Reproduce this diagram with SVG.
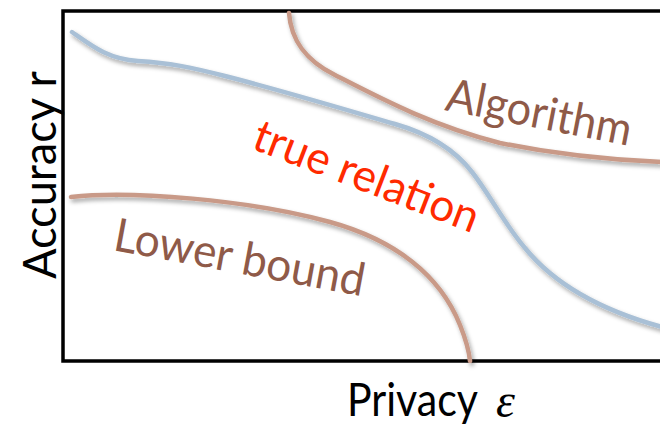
<svg xmlns="http://www.w3.org/2000/svg" width="660" height="427" viewBox="0 0 660 427">
  <defs>
    <filter id="soft-shadow" x="-10%" y="-10%" width="120%" height="130%">
      <feDropShadow dx="2" dy="3" stdDeviation="2" flood-color="#000" flood-opacity="0.35"/>
    </filter>
    <style>
      .axis { fill: none; stroke: #000; stroke-width: 3.5; }
      .curve { fill: none; stroke-width: 4.5; stroke-linecap: round; filter: url(#soft-shadow); }
      .bound { stroke: #c99a88; }
      .truth { stroke: #a9c0d6; }
      .axis-label { font-family: Lato, "Liberation Sans", sans-serif; font-size: 47px; fill: #000; }
      .curve-label { font-family: Lato, "Liberation Sans", sans-serif; font-size: 46px; fill: #8f5a48; }
      .true-label { font-family: Lato, "Liberation Sans", sans-serif; font-size: 45px; fill: #ff2a00; }
    </style>
  </defs>

  <rect width="660" height="427" fill="#fff"/>

  <!-- plot frame: left, top and bottom edges, open to the right -->
  <g id="axes">
    <path class="axis" d="M662,11 H63 V361 H662"/>
  </g>

  <g id="connectors">
    <!-- true privacy/accuracy relation -->
    <path id="true-curve" class="curve truth" d="M72,32 C92,46 108,59 138,61 C170,63 190,67 225,76 C280,90 330,105 395,124 C430,134 455,150 472,172 C490,195 505,225 525,248 C555,285 600,310 662,327"/>
    <!-- algorithm upper curve -->
    <path id="algorithm-curve" class="curve bound" d="M289,13 C291,40 305,60 335,75 C380,98 430,125 500,143 C560,155 610,160 662,162"/>
    <!-- lower bound curve -->
    <path id="lower-curve" class="curve bound" d="M71,197 C130,190 250,200 330,222 C395,240 440,275 460,325 C466,340 469,350 470,361"/>
  </g>

  <g id="label-algorithm">
    <text class="curve-label" transform="translate(444,110) rotate(11)" textLength="188" lengthAdjust="spacingAndGlyphs">Algorithm</text>
  </g>

  <g id="label-true-relation">
    <text class="true-label" transform="translate(250,148) rotate(21)" textLength="238" lengthAdjust="spacingAndGlyphs">true relation</text>
  </g>

  <g id="label-lower-bound">
    <text class="curve-label" transform="translate(112,250) rotate(10.5)" textLength="254" lengthAdjust="spacingAndGlyphs">Lower bound</text>
  </g>

  <g id="axis-y">
    <text class="axis-label" transform="translate(56,279) rotate(-90)" textLength="208" lengthAdjust="spacingAndGlyphs">Accuracy r</text>
  </g>

  <g id="axis-x">
    <text class="axis-label" x="347" y="416" textLength="131" lengthAdjust="spacingAndGlyphs">Privacy</text>
    <text x="496" y="417" font-family="'Liberation Serif', serif" font-style="italic" font-size="48" fill="#000">ε</text>
  </g>
</svg>
